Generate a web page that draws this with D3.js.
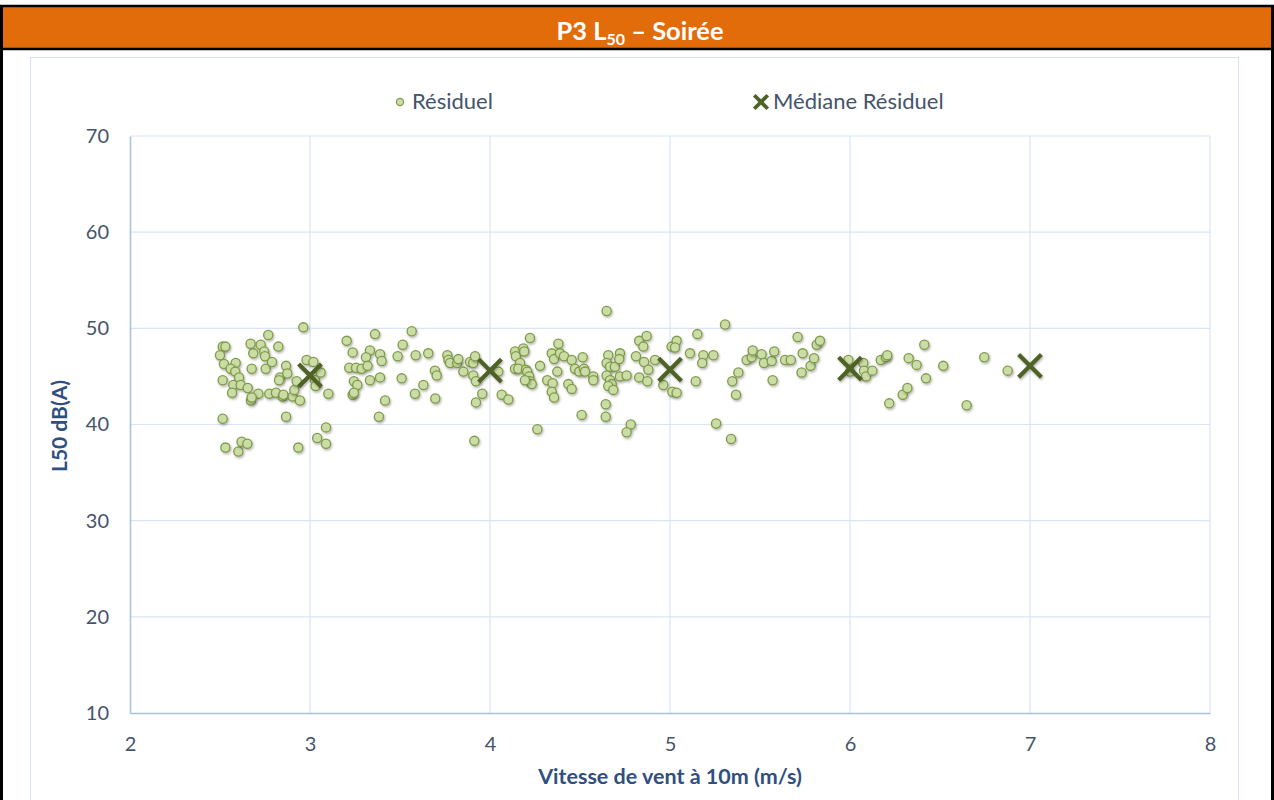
<!DOCTYPE html>
<html>
<head>
<meta charset="utf-8">
<script src="https://cdn.jsdelivr.net/npm/d3@7"></script>
<style>
  body { margin: 0; background: #fff; }
  svg { display: block; font-family: Lato, "Open Sans", sans-serif; }
</style>
</head>
<body>
<div id="chart"></div>
<script>
// Résiduel : [vitesse m/s, L50 dB(A)]
var residuel = [
  [2.963,50.1],[2.768,49.3],[2.515,48.1],[2.530,48.1],[2.67,48.4],[2.726,48.3],[2.824,48.1],[2.5,47.2],[2.685,47.4],[2.746,47.6],
  [2.75,47.1],[2.522,46.3],[2.587,46.4],[2.559,45.8],[2.676,45.8],[2.754,45.8],[2.789,46.5],[2.867,46.1],[2.585,45.5],[2.606,44.9],
  [2.833,44.9],[2.874,45.3],[2.828,44.6],[2.515,44.6],[2.574,44.1],[2.615,44.1],[2.654,43.8],[2.567,43.3],[2.713,43.2],[2.672,42.5],
  [2.676,42.8],[2.774,43.2],[2.811,43.3],[2.848,42.9],[2.852,43.1],[2.904,42.9],[2.913,43.6],[2.926,44.5],[2.944,42.5],[2.981,46.7],
  [3.019,46.5],[3.028,44.6],[3.031,44.0],[3.059,45.4],[3.102,43.2],[2.515,40.6],[2.867,40.8],[2.53,37.6],[2.602,37.2],[2.62,38.2],
  [2.652,38.0],[2.935,37.6],[3.04,38.6],[3.089,39.7],[3.089,38.0],
  [3.204,48.7],[3.361,49.4],[3.565,49.7],[3.237,47.5],[3.333,47.7],[3.311,47.0],[3.389,47.3],[3.398,46.6],[3.515,48.3],[3.487,47.1],
  [3.587,47.2],[3.657,47.4],[3.763,47.2],[3.769,46.7],[3.218,45.9],[3.256,45.9],[3.287,45.8],[3.32,46.1],[3.244,44.5],[3.263,44.1],
  [3.237,43.1],[3.244,43.3],[3.333,44.6],[3.389,44.9],[3.509,44.8],[3.417,42.5],[3.583,43.2],[3.63,44.1],[3.694,45.6],[3.704,45.1],
  [3.696,42.7],[3.383,40.8],
  [4.648,51.8],[3.778,46.4],[3.818,46.4],[3.824,46.8],[3.889,46.5],[3.907,46.4],[3.917,47.1],[3.852,45.5],[3.907,45.1],[3.922,44.5],
  [3.957,43.2],[3.922,42.3],[3.913,38.3],[4.046,45.5],[4.065,43.1],[4.102,42.6],[4.139,47.6],[4.144,47.1],[4.185,47.9],[4.19,47.6],
  [4.222,49.0],[4.167,46.4],[4.139,45.8],[4.157,45.8],[4.2,45.7],[4.207,45.5],[4.218,45.0],[4.222,44.5],[4.232,44.2],[4.194,44.6],
  [4.278,46.1],[4.263,39.5],[4.38,48.4],[4.343,47.4],[4.356,46.8],[4.389,47.4],[4.411,47.1],[4.374,45.5],[4.318,44.6],[4.348,44.3],
  [4.343,43.4],[4.356,42.8],[4.435,44.2],[4.454,43.7],[4.454,46.7],[4.515,47.0],[4.472,45.8],[4.496,45.5],[4.522,45.8],[4.528,45.5],
  [4.574,45.0],[4.574,44.6],[4.509,41.0],[4.657,47.2],[4.648,46.4],[4.667,46.0],[4.694,46.0],[4.722,47.4],[4.718,46.8],[4.648,45.1],
  [4.667,44.6],[4.676,44.2],[4.657,44.0],[4.685,43.6],[4.722,45.0],[4.759,45.1],[4.643,42.1],[4.643,40.8],[4.782,40.0],[4.759,39.2],
  [4.829,48.7],[4.87,49.2],[4.852,48.1],[4.811,47.1],[4.856,46.5],[4.88,45.7],[4.829,44.9],[4.874,44.5],[4.917,46.7],[4.963,44.1],
  [5.009,48.1],[5.037,48.7],[5.028,48.0],[5.013,43.4],[5.037,43.3],[5.111,47.4],
  [5.306,50.4],[5.152,49.4],[5.185,47.2],[5.179,46.4],[5.241,47.2],[5.143,44.5],[5.346,44.5],[5.38,45.4],[5.367,43.1],[5.256,40.1],
  [5.339,38.5],[5.426,46.7],[5.454,47.0],[5.459,47.7],[5.509,47.3],[5.522,46.4],[5.565,46.6],[5.579,47.6],[5.57,44.6],[5.639,46.7],
  [5.671,46.7],[5.709,49.1],[5.737,47.4],[5.731,45.4],[5.781,46.1],[5.8,46.9],[5.815,48.3],[5.833,48.7],[5.991,46.7],[6.074,46.4],
  [6.078,45.6],[6.089,45.0],[6.124,45.6],[6.0,45.5],[6.171,46.7],[6.2,47.0],[6.207,47.2],[6.218,42.2],[6.293,43.1],[6.319,43.8],
  [6.326,46.9],[6.37,46.2],[6.413,48.3],[6.422,44.8],
  [6.518,46.1],[6.746,47.0],[6.876,45.6],[6.648,42.0]
];

var medianeVitesse = [3, 4, 5, 6, 7];
var medianeL50 = [45.1, 45.6, 45.7, 45.8, 46.1];

var xTicks = [2, 3, 4, 5, 6, 7, 8];
var yTicks = [10, 20, 30, 40, 50, 60, 70];

var width = 1274, height = 800;
var plot = {left: 130, right: 1210, top: 136, bottom: 713};

var svg = d3.select("#chart").append("svg")
    .attr("width", width).attr("height", height);

var defs = svg.append("defs");
var f = defs.append("filter").attr("id", "ombre")
    .attr("x", "-50%").attr("y", "-50%").attr("width", "200%").attr("height", "200%");
f.append("feDropShadow").attr("dx", 1).attr("dy", 1.5).attr("stdDeviation", 1)
    .attr("flood-color", "#000").attr("flood-opacity", 0.3);

// cadre + bandeau titre
svg.append("rect").attr("x", 0).attr("y", 0).attr("width", width).attr("height", height).attr("fill", "#fff");
svg.append("rect").attr("x", 2).attr("y", 7).attr("width", width - 4).attr("height", 41).attr("fill", "#e36c0a");
svg.append("line").attr("x1", 0).attr("x2", width).attr("y1", 6).attr("y2", 6).attr("stroke", "#000").attr("stroke-width", 2.5);
svg.append("line").attr("x1", 0).attr("x2", width).attr("y1", 49).attr("y2", 49).attr("stroke", "#000").attr("stroke-width", 2.5);
svg.append("line").attr("x1", 1.5).attr("x2", 1.5).attr("y1", 5).attr("y2", height).attr("stroke", "#000").attr("stroke-width", 3);
svg.append("line").attr("x1", width - 1.5).attr("x2", width - 1.5).attr("y1", 5).attr("y2", height).attr("stroke", "#000").attr("stroke-width", 3);

var titre = svg.append("text").attr("x", 640).attr("y", 40).attr("text-anchor", "middle")
    .attr("fill", "#fff").attr("font-weight", "bold").attr("font-size", 25.5);
titre.append("tspan").text("P3 L");
titre.append("tspan").attr("font-size", 16).attr("dy", 5).text("50");
titre.append("tspan").attr("dy", -5).text(" – Soirée");

// zone graphique
svg.append("rect").attr("x", 30.5).attr("y", 57.5).attr("width", 1208).attr("height", 760)
    .attr("fill", "none").attr("stroke", "#d6e0ee").attr("stroke-width", 1);

var x = d3.scaleLinear().domain([2, 8]).range([plot.left, plot.right]);
var y = d3.scaleLinear().domain([10, 70]).range([plot.bottom, plot.top]);

var grid = svg.append("g");
grid.selectAll(".gx").data(xTicks.slice(1)).enter().append("line")
    .attr("x1", d => x(d)).attr("x2", d => x(d))
    .attr("y1", plot.top).attr("y2", plot.bottom)
    .attr("stroke", "#d9e5f4").attr("stroke-width", 1.2);
grid.selectAll(".gy").data(yTicks.slice(1)).enter().append("line")
    .attr("x1", plot.left).attr("x2", plot.right)
    .attr("y1", d => y(d)).attr("y2", d => y(d))
    .attr("stroke", "#d9e5f4").attr("stroke-width", 1.2);

var xAxis = svg.append("g").attr("transform", "translate(0," + plot.bottom + ")")
    .call(d3.axisBottom(x).tickValues(xTicks).tickFormat(d3.format("d")).tickSize(0).tickPadding(24));
var yAxis = svg.append("g").attr("transform", "translate(" + plot.left + ",0)")
    .call(d3.axisLeft(y).tickValues(yTicks).tickFormat(d3.format("d")).tickSize(0).tickPadding(21));
[xAxis, yAxis].forEach(function (a) {
  a.select(".domain").attr("stroke", "#a8c0e0").attr("stroke-width", 1.5);
  a.selectAll("text").attr("fill", "#44546a").attr("font-size", 20)
    .attr("font-family", "Lato, 'Open Sans', sans-serif");
});

svg.append("text").attr("x", 670).attr("y", 784).attr("text-anchor", "middle")
    .attr("fill", "#2f4f7f").attr("font-weight", "bold").attr("font-size", 21.5)
    .text("Vitesse de vent à 10m (m/s)");
svg.append("text").attr("transform", "translate(67,426) rotate(-90)").attr("text-anchor", "middle")
    .attr("fill", "#2f4f7f").attr("font-weight", "bold").attr("font-size", 21)
    .text("L50 dB(A)");

// points
svg.append("g").selectAll("circle").data(residuel).enter().append("circle")
    .attr("cx", d => x(d[0])).attr("cy", d => y(d[1])).attr("r", 4.6)
    .attr("fill", "#cbdca6").attr("stroke", "#7f9b48").attr("stroke-width", 1.3)
    .attr("filter", "url(#ombre)");

var croix = d3.symbol().type(d3.symbolX).size(340);
svg.append("g").selectAll("path").data(medianeVitesse).enter().append("path")
    .attr("d", croix)
    .attr("transform", (d, i) => "translate(" + x(d) + "," + y(medianeL50[i]) + ")")
    .attr("fill", "none").attr("stroke", "#4f6228").attr("stroke-width", 4.2)
    .attr("filter", "url(#ombre)");

// légende
var leg = svg.append("g");
leg.append("circle").attr("cx", 400).attr("cy", 102).attr("r", 3.6)
    .attr("fill", "#cbdca6").attr("stroke", "#7f9b48").attr("stroke-width", 1.2);
leg.append("text").attr("x", 412).attr("y", 109).attr("fill", "#44546a").attr("font-size", 22).text("Résiduel");
leg.append("path").attr("d", d3.symbol().type(d3.symbolX).size(120))
    .attr("transform", "translate(761,102)").attr("fill", "none")
    .attr("stroke", "#4f6228").attr("stroke-width", 3.8);
leg.append("text").attr("x", 773).attr("y", 109).attr("fill", "#44546a").attr("font-size", 22).text("Médiane Résiduel");
</script>
</body>
</html>
